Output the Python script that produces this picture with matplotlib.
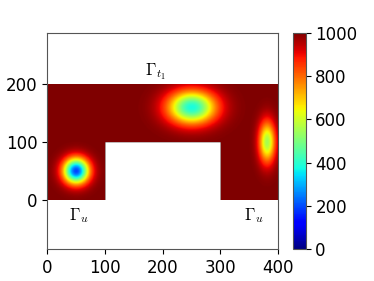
import numpy as np
import matplotlib
matplotlib.use("Agg")
import matplotlib.pyplot as plt

plt.rcParams['mathtext.fontset'] = 'cm'

# blobs (dips below the base value 1000)
base = 1000
cx = [50, 250, 380]
cy = [50, 160, 100]
amp = [810, 620, 450]
sx = [15.5, 29, 10]
sy = [15.5, 20, 25]

# U shaped domain rectangles (x0, x1, y0, y1)
rects = [(0, 400, 100, 200), (0, 100, 0, 100), (300, 400, 0, 100)]

x = np.linspace(0, 400, 401)
y = np.linspace(0, 200, 201)
X, Y = np.meshgrid(x, y)
Z = np.full(X.shape, float(base))
for i in range(len(cx)):
    Z -= amp[i] * np.exp(-((X - cx[i])**2 / (2 * sx[i]**2) + (Y - cy[i])**2 / (2 * sy[i]**2)))

inside = np.zeros(X.shape, dtype=bool)
for x0, x1, y0, y1 in rects:
    inside |= (X >= x0) & (X <= x1) & (Y >= y0) & (Y <= y1)
Z = np.ma.masked_where(~inside, Z)

fig = plt.figure(figsize=(3.74, 2.81), dpi=100)
ax = fig.add_axes([0.126, 0.114, 0.618, 0.769])
im = ax.imshow(Z, origin='lower', extent=(0, 400, 0, 200), cmap='jet',
               vmin=0, vmax=1000, interpolation='bilinear')
ax.set_xlim(0, 400)
ax.set_ylim(-85, 288)
ax.set_aspect('auto')
ax.set_xticks([0, 100, 200, 300, 400])
ax.set_yticks([0, 100, 200])
ax.tick_params(labelsize=12)
for s in ax.spines.values():
    s.set_color('#555555')

ax.text(187, 222, r'$\Gamma_{t_1}$', fontsize=12, ha='center', va='center')
ax.text(55, -28, r'$\Gamma_u$', fontsize=12, ha='center', va='center')
ax.text(358, -28, r'$\Gamma_u$', fontsize=12, ha='center', va='center')

cax = fig.add_axes([0.783, 0.114, 0.034, 0.769])
cb = fig.colorbar(im, cax=cax, ticks=[0, 200, 400, 600, 800, 1000])
cb.ax.tick_params(labelsize=12)
cb.outline.set_edgecolor('#555555')

fig.savefig('out.png', dpi=100)
